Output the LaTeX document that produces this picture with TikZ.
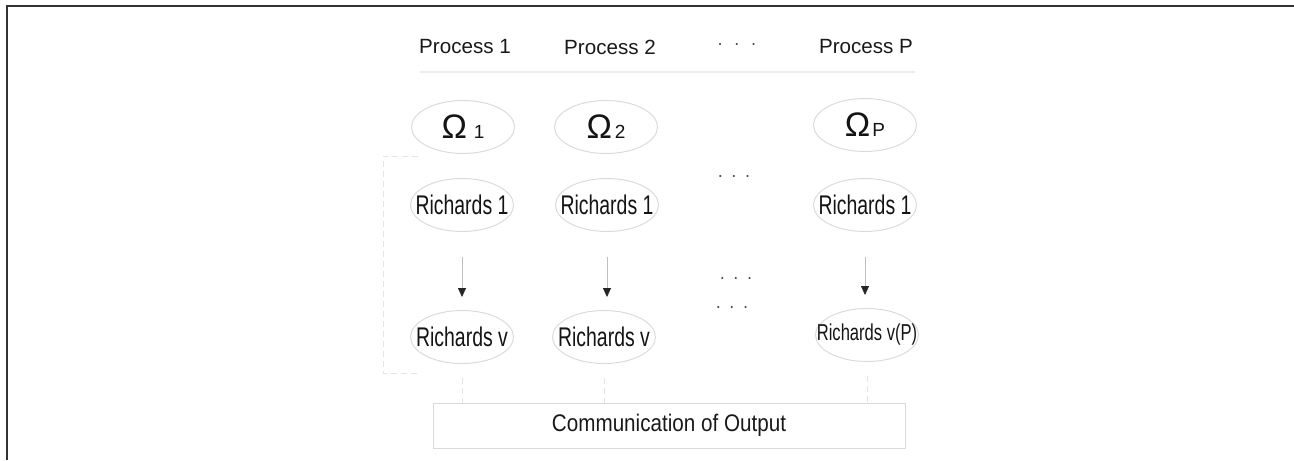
\documentclass[tikz,border=0pt]{standalone}
\usepackage{fontspec}
\setmainfont{Liberation Sans}
\newfontfamily\narrowfont[FakeStretch=0.72]{Liberation Sans}
\newfontfamily\boxfont[FakeStretch=0.86]{Liberation Sans}
\usetikzlibrary{arrows.meta, positioning, shapes.geometric}
\newcommand{\inlab}[1]{\makebox[0pt]{#1}}
\newcommand{\omlab}[2]{\inlab{\rmfamily\fontsize{17}{18}\selectfont Ω\hspace{#2}\fontsize{9.5}{10}\selectfont #1}}
\newcommand{\threedots}[1]{$\cdot$\hspace{#1}$\cdot$\hspace{#1}$\cdot$}
\tikzset{%
	solver/.style={
		ellipse,
		draw=gray!28,
		line width=0.5pt,
		minimum width=51.5pt,
		minimum height=26.5pt,
		inner sep=0pt,
		text=black!92,
		font=\narrowfont\fontsize{13.5}{14}\selectfont
	},
	header/.style={
		text=black!90,
		font=\fontsize{10.3}{12}\selectfont
	},
	skipdots/.style={
		inner sep=0pt,
		text=black!75
	},
}

\begin{document}
\begin{tikzpicture}[x=0.5pt, y=-0.5pt]
			\useasboundingbox (0,0) rectangle (1294,460);
			\draw[black!80, line width=1pt] (6.5,460) -- (6.5,6.5) -- (1294,6.5);
			
			% header row
			\node[header] (p1) at (465,47) {Process 1};
			\node[header] (p2) at (610,47) {Process 2};
			\node[skipdots] (pdots) at (737,45) {\threedots{5.6pt}};
			\node[header] (pP) at (866,47) {Process P};
			\draw[gray!15, line width=1pt] (420,72) -- (915,72);
			
			% subdomains
			\node[solver] (o1) at (463,127) {\omlab{1}{3.5pt}};
			\node[solver] (o2) at (606,127) {\omlab{2}{1.5pt}};
			\node[solver] (oP) at (865,125) {\omlab{P}{1pt}};
			
			% first and last Richards solve on each process
			\node[solver] (r1) at (462,205) {\inlab{Richards 1}};
			\node[solver] (r2) at (607,205) {\inlab{Richards 1}};
			\node[solver] (rP) at (865,205) {\inlab{Richards 1}};
			\node[solver] (v1) at (462,337) {\inlab{Richards v}};
			\node[solver] (v2) at (604,337) {\inlab{Richards v}};
			\node[solver, font=\narrowfont\fontsize{11.5}{12}\selectfont] (vP) at (867,335) {\inlab{Richards v(P)}};
			
			\node[skipdots] (rdots) at (734,177) {\threedots{4pt}};
			\node[skipdots] (mdots) at (736,279) {\threedots{4pt}};
			\node[skipdots] (ldots) at (732,308) {\threedots{4pt}};
			
			\foreach \a/\b in {r1/v1, r2/v2, rP/vP}
				\draw[gray!50, line width=0.4pt, shorten <=12.5pt, shorten >=6.5pt,
					-{Triangle[length=4.5pt, width=4pt, color=black!85]}]
					(\a.south) -- (\a.south |- \b.north);
			
			% dashed bracket round the solves of process 1
			\draw[gray!20, densely dashed, line width=0.4pt] (418,156) -- (383,156) -- (383,373) -- (418,373);
			
			\node[draw=gray!30, line width=0.5pt, minimum width=236pt, minimum height=22.5pt,
				text=black!90, font=\boxfont\fontsize{12}{14}\selectfont] (comm) at (669,425.5) {Communication of Output};
			
			\foreach \v in {v1, v2, vP}
				\draw[gray!22, densely dashed, line width=0.4pt, shorten <=7pt] (\v.south) -- (\v.south |- comm.north);
			
		\end{tikzpicture}
\end{document}
